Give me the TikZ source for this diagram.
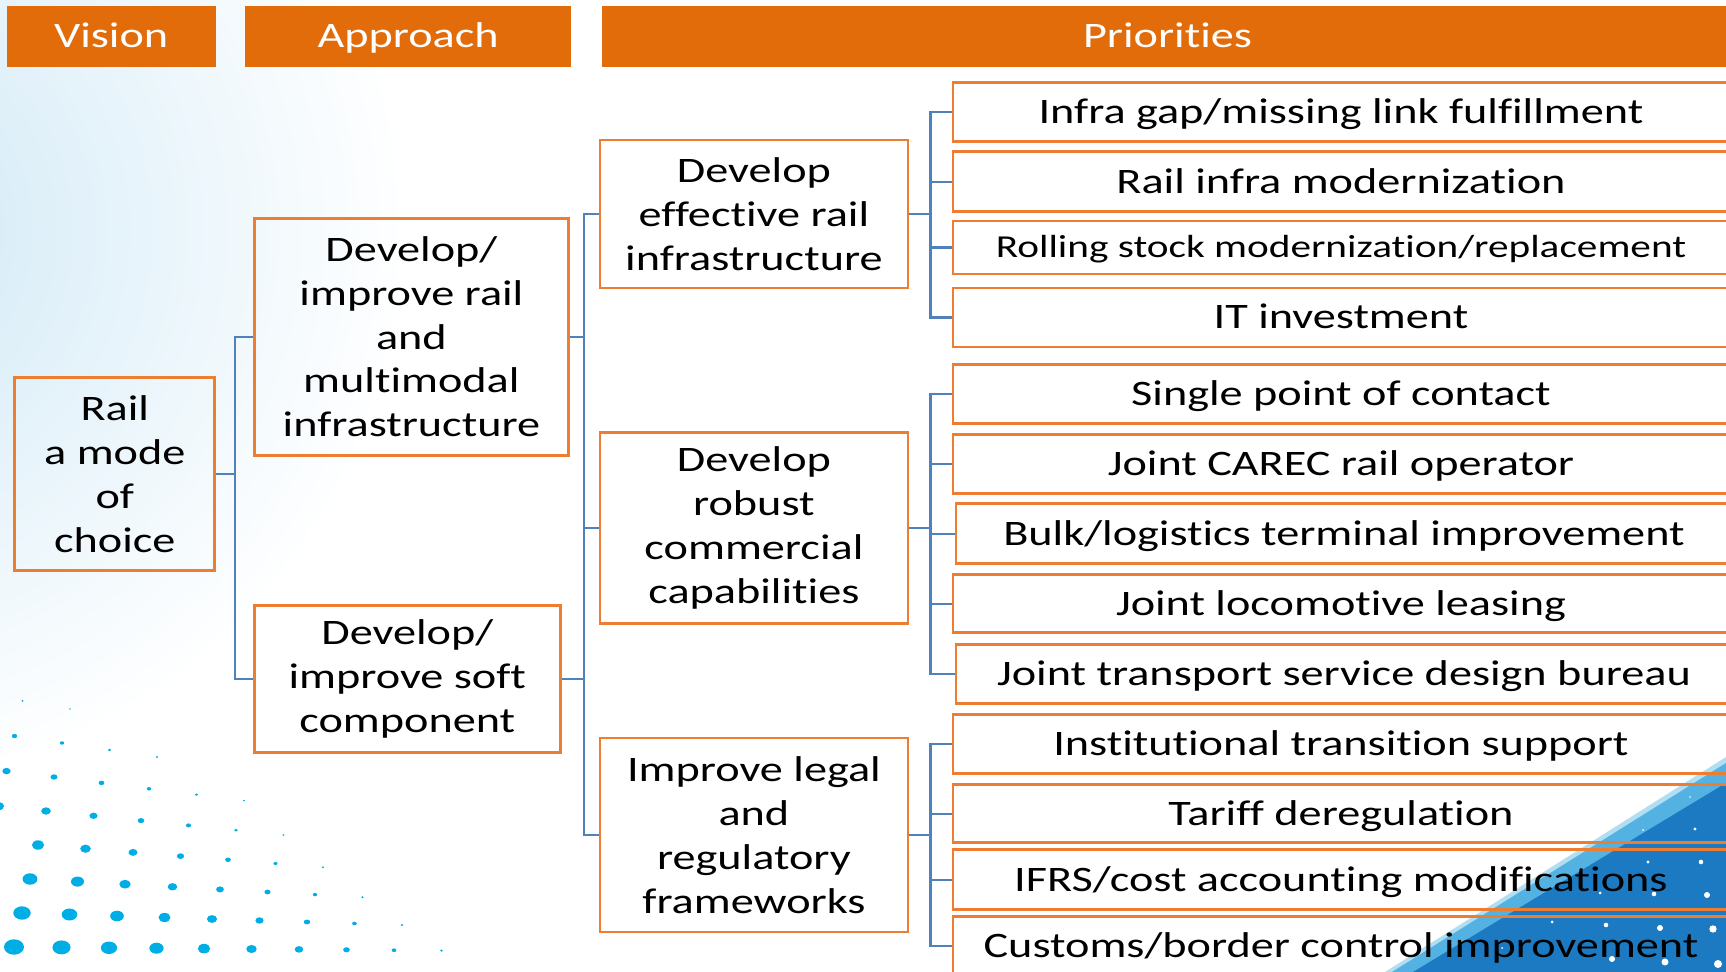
\documentclass[tikz,border=0pt]{standalone}
\usepackage{fontspec}
\setmainfont{Carlito}[FakeStretch=1.29,RawFeature={-liga;-clig}]
\usepackage{tikz}
\usetikzlibrary{positioning,calc}
\definecolor{headorange}{RGB}{227,108,10}
\definecolor{lineorange}{RGB}{237,125,49}
\definecolor{linkblue}{RGB}{79,129,189}
\definecolor{dotblue}{RGB}{0,174,230}
\definecolor{skyblue}{RGB}{206,232,246}
\definecolor{tridark}{RGB}{27,122,194}
\definecolor{trimid}{RGB}{84,178,226}
\definecolor{trilight}{RGB}{178,222,242}

\begin{document}
\begin{tikzpicture}[x=0.1mm,y=-0.1mm,node distance=7mm,
  font=\fontsize{10.2}{12.5}\selectfont,
  head/.style={fill=headorange,text=white,inner sep=0pt,minimum height=6.07mm,text height=6.5pt,text depth=0pt},
  box/.style={draw=lineorange,line width=0.75pt,align=center,inner sep=0pt},
  prio/.style={box,minimum width=77.6mm,minimum height=5.9mm,text height=6.5pt,text depth=0pt},
  conn/.style={linkblue,line width=0.6pt},
  elbow/.style={to path={|- (\tikztotarget)}}]

\useasboundingbox (0,0) rectangle (1726,972);
\clip (0,0) rectangle (1726,972);
\fill[white] (0,0) rectangle (1726,972);
\shade[inner color=skyblue,outer color=white] (-150,230) circle (560);

\foreach \i in {0,...,7}{
  \foreach \j in {-1,...,9}{
    \pgfmathsetmacro\dotr{(7.7-1.0*\i)*(1-\j/(10.5-\i))}
    \pgfmathsetmacro\dotrx{1.3*\dotr}
    \pgfmathsetmacro\dx{14+8*\i+47.5*\j}
    \pgfmathsetmacro\dy{947-34*\i+(0.4+1.1*\i)*\j}
    \ifdim\dotr pt>0.6pt \ifdim\dx pt>-6pt \fill[dotblue] (\dx,\dy) ellipse [x radius=\dotrx, y radius=\dotr]; \fi\fi
  }
}

\fill[trilight] (1385,972) -- (1726,757) -- (1726,972) -- cycle;
\fill[trimid] (1392,972) -- (1726,763) -- (1726,972) -- cycle;
\fill[tridark] (1413,972) -- (1726,783) -- (1726,972) -- cycle;
\foreach \px/\py/\pr in {1695/829/1.7,1701/862/2.3,1648/862/1.7,1654/894/2.3,1707/895/3,
  1606/925/2.3,1660/928/3,1713/929/3.7,1552/922/1.5,1612/959/3,1665/962/3.5,1718/964/4,
  1600/893/1.5,1643/830/1,1690/797/0.8,1502/948/1}
  \fill[white] (\px,\py) circle (\pr);

\node[head,minimum width=20.9mm] (hvis) at (111.2,36.4) {Vision};
\node[head,minimum width=32.6mm] (happ) [right=2.8mm of hvis] {Approach};
\node[head,minimum width=113.2mm] (hpri) [right=2.9mm of happ] {Priorities};

\node[box,minimum width=20mm,minimum height=19.3mm] (vis) at (114.8,474) {Rail\\a mode\\of\\choice};
\node[box,minimum width=31.4mm,minimum height=23.7mm] (app1) at (411.4,336.7) {Develop/\\improve rail\\and\\multimodal\\infrastructure};
\node[box,minimum width=30.6mm,minimum height=14.7mm] (app2) at (407.3,679.3) {Develop/\\improve soft\\component};
\node[box,minimum width=30.8mm,minimum height=14.8mm] (mid1) at (753.9,214) {Develop\\effective rail\\infrastructure};
\node[box,minimum width=30.8mm,minimum height=19.1mm] (mid2) at (753.9,528.3) {Develop\\robust\\commercial\\capabilities};
\node[box,minimum width=30.8mm,minimum height=19.4mm] (mid3) at (753.9,835) {Improve legal\\and\\regulatory\\frameworks};

\node[prio] (p1) at (1341,111.8) {Infra gap/missing link fulfillment};
\node[prio,minimum height=6mm] (p2) [below of=p1] {Rail infra modernization};
\node[prio,minimum height=5.3mm,font=\fontsize{9.1}{11}\selectfont,text height=5.8pt] (p3) [node distance=6.57mm,below of=p2] {Rolling stock modernization/replacement};
\node[prio] (p4) [below of=p3] {IT investment};
\node[prio] (p5) [node distance=7.63mm,below of=p4] {Single point of contact};
\node[prio] (p6) [below of=p5] {Joint CAREC rail operator};
\node[prio,minimum height=6mm] (p7) [below of=p6,xshift=0.3mm] {Bulk/logistics terminal improvement};
\node[prio,minimum height=5.8mm] (p8) [below of=p7,xshift=-0.3mm] {Joint locomotive leasing};
\node[prio] (p9) [below of=p8,xshift=0.3mm] {Joint transport service design bureau};
\node[prio] (p10) [below of=p9,xshift=-0.3mm] {Institutional transition support};
\node[prio,minimum height=5.8mm] (p11) [below of=p10] {Tariff deregulation};
\node[prio,minimum height=6mm] (p12) [node distance=6.58mm,below of=p11] {IFRS/cost accounting modifications};
\node[prio,minimum height=6mm] (p13) [node distance=6.67mm,below of=p12] {Customs/border control improvement};

\coordinate (busA) at ($(vis.east)!.5!(app1.west)$);
\coordinate (busB) at ($(app1.east)!.5!(mid1.west)$);
\coordinate (busC) at ($(mid1.east)!.5!(p1.west)$);

\path[conn] (vis.east) edge (vis.east -| busA)
  (vis.east -| busA) edge[elbow] (app1.west) edge[elbow] (app2.west);
\path[conn] (app1.east) edge (app1.east -| busB)
  (app1.east -| busB) edge[elbow] (mid1.west) edge[elbow] (mid2.west) edge[elbow] (mid3.west)
  (app2.east) edge (app2.east -| busB);
\path[conn] (mid1.east) edge (mid1.east -| busC)
  (mid1.east -| busC) edge[elbow] (p1.west) edge[elbow] (p2.west) edge[elbow] (p3.west) edge[elbow] (p4.west);
\path[conn] (mid2.east) edge (mid2.east -| busC)
  (mid2.east -| busC) edge[elbow] (p5.west) edge[elbow] (p6.west) edge[elbow] (p7.west) edge[elbow] (p8.west) edge[elbow] (p9.west);
\path[conn] (mid3.east) edge (mid3.east -| busC)
  (mid3.east -| busC) edge[elbow] (p10.west) edge[elbow] (p11.west) edge[elbow] (p12.west) edge[elbow] (p13.west);
\end{tikzpicture}
\end{document}
